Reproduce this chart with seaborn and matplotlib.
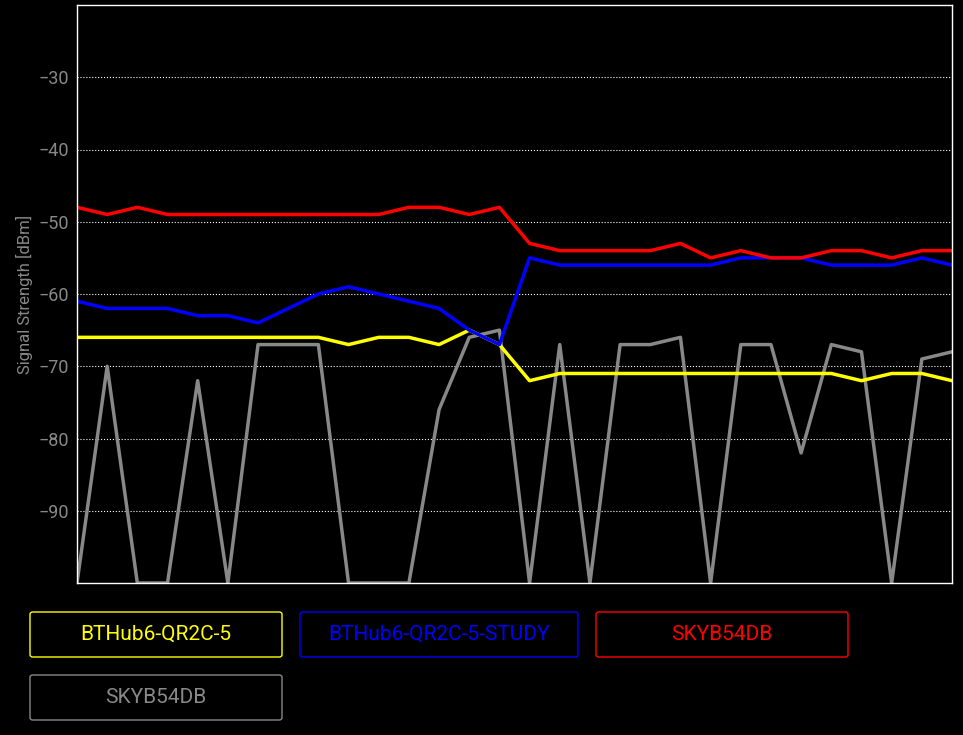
import matplotlib
matplotlib.use("Agg")
import matplotlib.pyplot as plt
from matplotlib.patches import FancyBboxPatch
import seaborn as sns
import pandas as pd

sns.set_style("dark")
plt.rcParams['font.family'] = ['Roboto', 'DejaVu Sans']

samples = list(range(30))
yellow = [-66, -66, -66, -66, -66, -66, -66, -66, -66, -67, -66, -66, -67, -65, -67,
          -72, -71, -71, -71, -71, -71, -71, -71, -71, -71, -71, -72, -71, -71, -72]
blue = [-61, -62, -62, -62, -63, -63, -64, -62, -60, -59, -60, -61, -62, -65, -67,
        -55, -56, -56, -56, -56, -56, -56, -55, -55, -55, -56, -56, -56, -55, -56]
red = [-48, -49, -48, -49, -49, -49, -49, -49, -49, -49, -49, -48, -48, -49, -48,
       -53, -54, -54, -54, -54, -53, -55, -54, -55, -55, -54, -54, -55, -54, -54]
gray = [-100, -70, -100, -100, -72, -100, -67, -67, -67, -100, -100, -100, -76, -66, -65,
        -100, -67, -100, -67, -67, -66, -100, -67, -67, -82, -67, -68, -100, -69, -68]

names = ["BTHub6-QR2C-5", "BTHub6-QR2C-5-STUDY", "SKYB54DB", "SKYB54DB "]
colors = ["#ffff00", "#0000ff", "#ff0000", "#888888"]
series = [yellow, blue, red, gray]

df = pd.concat([pd.DataFrame({"x": samples, "y": s, "net": n}) for n, s in zip(names, series)])

fig = plt.figure(figsize=(9.63, 7.35), dpi=100, facecolor="black")
ax = fig.add_axes([77 / 963, 1 - 583 / 735, 875 / 963, 578 / 735])
ax.set_facecolor("black")

# gray first so the others draw on top
order = [3, 0, 1, 2]
for i in order:
    sub = df[df["net"] == names[i]]
    sns.lineplot(data=sub, x="x", y="y", color=colors[i], lw=2.5, ax=ax, legend=False)

ax.set_xlim(0, 29)
ax.set_ylim(-100, -20)
ax.set_yticks([-90, -80, -70, -60, -50, -40, -30])
ax.set_xticks([])
ax.set_xlabel("")
ax.set_ylabel("Signal Strength [dBm]", color="#888888", fontsize=12)
ax.tick_params(axis="y", colors="#888888", labelsize=13, length=0, pad=6)
ax.grid(axis="y", color="white", linestyle=":", lw=0.8)
ax.grid(axis="x", visible=False)
for sp in ax.spines.values():
    sp.set_color("white")
    sp.set_linewidth(1)

# legend boxes
boxes = [(30, 612), (300, 612), (596, 612), (30, 675)]
for (bx, by), n, c in zip(boxes, names, colors):
    w, h = 252 if bx != 300 else 278, 45
    rect = FancyBboxPatch((bx / 963, 1 - (by + h) / 735), w / 963, h / 735,
                          boxstyle="round,pad=0,rounding_size=0.003",
                          transform=fig.transFigure, facecolor="black",
                          edgecolor=c, lw=1)
    fig.patches.append(rect)
    fig.text((bx + w / 2) / 963, 1 - (by + h / 2) / 735, n.strip(), color=c,
             fontsize=15, ha="center", va="center")

fig.savefig("out.png", dpi=100, facecolor="black")
